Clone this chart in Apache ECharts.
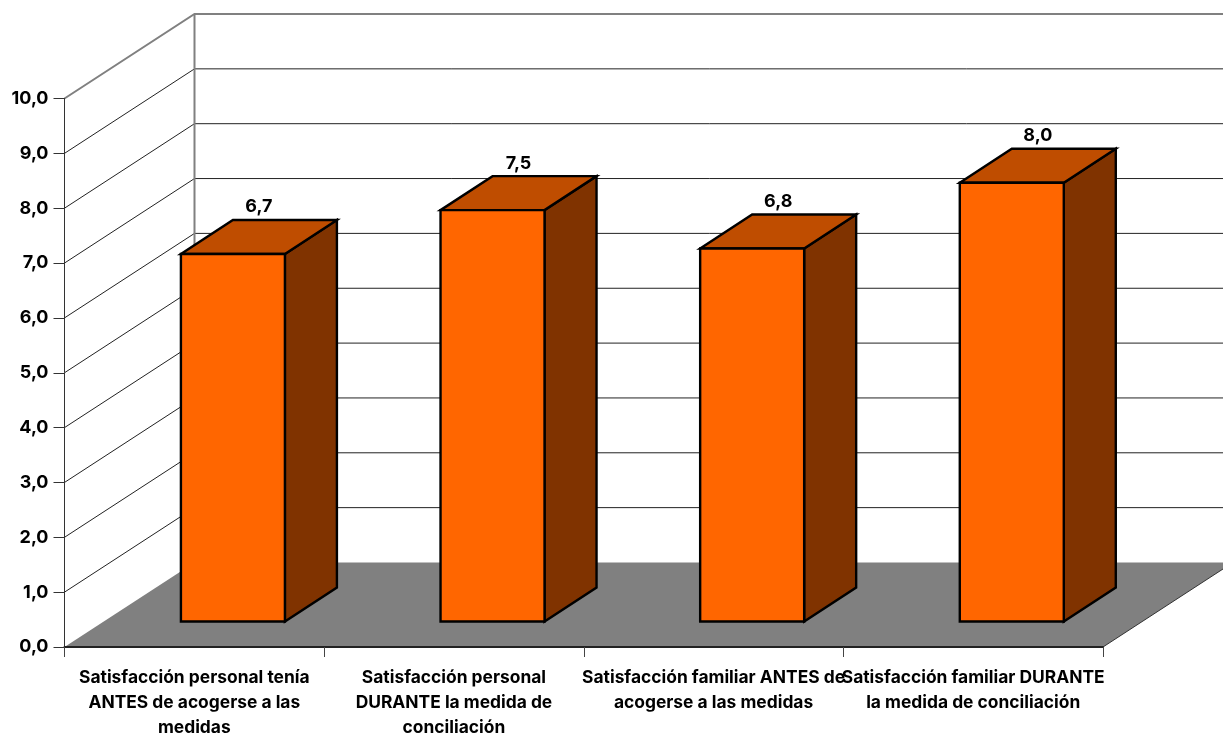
<!DOCTYPE html>
<html>
<head>
<meta charset="utf-8">
<style>
  html, body { margin: 0; padding: 0; background: #fff; }
  #chart { width: 1223px; height: 734px; }
</style>
<script src="https://cdn.jsdelivr.net/npm/echarts@6/dist/echarts.min.js"></script>
</head>
<body>
<div id="chart"></div>
<script>
// Satisfaction scores, before and during the work-life balance measure
const categories = [
  'Satisfacción personal tenía\nANTES de acogerse a las\nmedidas',
  'Satisfacción personal\nDURANTE la medida de\nconciliación',
  'Satisfacción familiar ANTES de\nacogerse a las medidas',
  'Satisfacción familiar DURANTE\nla medida de conciliación'
];
const values = [6.7, 7.5, 6.8, 8.0];
const gridLevels = [1, 2, 3, 4, 5, 6, 7, 8, 9, 10];

// Oblique projection used for the pseudo-3D box look
const WALL_DX = 130, WALL_DY = 84.5;
const BAR_FRONT_DX = 38.6, BAR_FRONT_DY = 25.5;
const BAR_DX = 52, BAR_DY = 34;
const BAR_WIDTH = 104;
const FONT = 'Inter, "Liberation Sans", Arial, sans-serif';
const comma = v => v.toFixed(1).replace('.', ',');

const chart = echarts.init(document.getElementById('chart'), null, { renderer: 'canvas' });

function renderWall(params, api) {
  const level = api.value(0);
  const cs = params.coordSys;
  const y = api.coord([0, level])[1];
  const x0 = cs.x, x1 = cs.x + WALL_DX, x2 = cs.x + cs.width + WALL_DX;
  const top = level === 10;
  const style = { stroke: top ? '#808080' : '#222', lineWidth: top ? 2 : 1, fill: null };
  return {
    type: 'group',
    silent: true,
    children: [
      { type: 'polyline', shape: { points: [[x0, y], [x1, y - WALL_DY], [x2, y - WALL_DY]] }, style }
    ]
  };
}

function renderFloor(params, api) {
  const cs = params.coordSys;
  const y0 = api.coord([0, 0])[1];
  const yTop = api.coord([0, 10])[1];
  const xl = cs.x, xr = cs.x + cs.width;
  return {
    type: 'group',
    silent: true,
    children: [
      {
        type: 'polygon',
        shape: { points: [[xl, y0], [xl + WALL_DX, y0 - WALL_DY], [xr + WALL_DX, y0 - WALL_DY], [xr, y0]] },
        style: { fill: '#808080' }
      },
      {
        type: 'line',
        shape: { x1: xr, y1: y0, x2: xr + WALL_DX, y2: y0 - WALL_DY },
        style: { stroke: '#333', lineWidth: 1 }
      },
      {
        type: 'line',
        shape: { x1: xl + WALL_DX, y1: yTop - WALL_DY, x2: xl + WALL_DX, y2: y0 - WALL_DY },
        style: { stroke: '#808080', lineWidth: 2 }
      }
    ]
  };
}

function renderBar(params, api) {
  const i = api.value(0), v = api.value(1);
  const base = api.coord([i, 0]);
  const top = api.coord([i, v]);
  const l = base[0] - BAR_WIDTH / 2 + BAR_FRONT_DX;
  const r = l + BAR_WIDTH;
  const b = base[1] - BAR_FRONT_DY;
  const t = top[1] - BAR_FRONT_DY;
  const edge = { stroke: '#000', lineWidth: 2.4, lineJoin: 'miter' };
  return {
    type: 'group',
    children: [
      {
        type: 'polygon',
        shape: { points: [[r, t], [r + BAR_DX, t - BAR_DY], [r + BAR_DX, b - BAR_DY], [r, b]] },
        style: Object.assign({ fill: '#803300' }, edge)
      },
      {
        type: 'polygon',
        shape: { points: [[l, t], [l + BAR_DX, t - BAR_DY], [r + BAR_DX, t - BAR_DY], [r, t]] },
        style: Object.assign({ fill: '#BF4D00' }, edge)
      },
      {
        type: 'rect',
        shape: { x: l, y: t, width: BAR_WIDTH, height: b - t },
        style: Object.assign({ fill: '#FF6600' }, edge)
      },
      {
        type: 'text',
        style: {
          text: comma(v),
          x: l + BAR_WIDTH / 2 + 26,
          y: t - BAR_DY - 4,
          align: 'center',
          verticalAlign: 'bottom',
          font: '700 18px ' + FONT,
          fill: '#000'
        }
      }
    ]
  };
}

chart.setOption({
  animation: false,
  backgroundColor: '#fff',
  grid: { left: 64.5, top: 98.5, width: 1038.5, height: 548.5, containLabel: false, outerBoundsMode: 'none' },
  xAxis: {
    type: 'category',
    data: categories,
    z: 6,
    axisLine: { lineStyle: { color: '#222', width: 2 } },
    axisTick: { show: true, length: 10, alignWithLabel: false, lineStyle: { color: '#444', width: 1 } },
    axisLabel: {
      interval: 0, hideOverlap: false, margin: 18, color: '#000',
      fontWeight: 700, fontSize: 17.4, fontFamily: FONT,
      lineHeight: 25, align: 'center', verticalAlign: 'top'
    },
    splitLine: { show: false }
  },
  yAxis: {
    type: 'value', min: 0, max: 10, interval: 1,
    z: 6,
    axisLine: { show: true, lineStyle: { color: '#333', width: 1 } },
    axisTick: { show: true, length: 11, lineStyle: { color: '#333', width: 1 } },
    axisLabel: {
      margin: 16, color: '#000', fontWeight: 700, fontSize: 18, fontFamily: FONT,
      formatter: comma
    },
    splitLine: { show: false }
  },
  series: [
    { type: 'custom', name: 'pared', z: 1, clip: false, data: gridLevels.map(l => [l]), encode: { y: 0 }, renderItem: renderWall },
    { type: 'custom', name: 'suelo', z: 2, clip: false, data: [[0]], renderItem: renderFloor },
    { type: 'custom', name: 'satisfacción', z: 3, clip: false, data: values.map((v, i) => [i, v]), encode: { x: 0, y: 1 }, renderItem: renderBar }
  ]
});
</script>
</body>
</html>
